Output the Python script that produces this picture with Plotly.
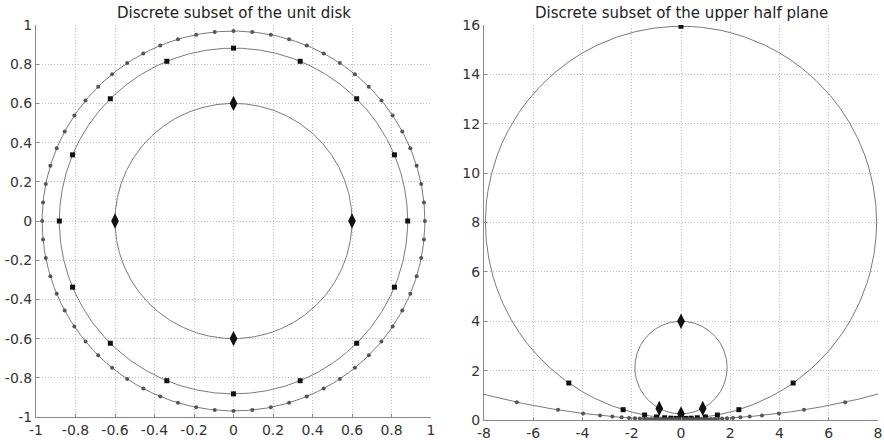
import numpy as np
import plotly.graph_objects as go

# ---- data ----
ring_radii = [0.6, 0.882, 0.969]          # radii of the rings in the unit disk
ring_counts = [4, 16, 64]                 # number of discrete points on each ring
ring_symbols = ["diamond-tall", "square", "circle"]
ring_sizes = [11, 5, 4]
ring_colors = ["#111111", "#111111", "#555555"]

disk_ticks = [-1, -0.8, -0.6, -0.4, -0.2, 0, 0.2, 0.4, 0.6, 0.8, 1]
disk_ticklabels = ["-1", "-0.8", "-0.6", "-0.4", "-0.2", "0", "0.2", "0.4", "0.6", "0.8", "1"]
hp_xticks = [-8, -6, -4, -2, 0, 2, 4, 6, 8]
hp_xticklabels = ["-8", "-6", "-4", "-2", "0", "2", "4", "6", "8"]
hp_yticks = [0, 2, 4, 6, 8, 10, 12, 14, 16]
hp_yticklabels = ["0", "2", "4", "6", "8", "10", "12", "14", "16"]

titles = ["Discrete subset of the unit disk", "Discrete subset of the upper half plane"]


def cayley(w):
    return 1j * (1 + w) / (1 - w)


fig = go.Figure()
line_col = "#7a7a7a"

for r, n, sym, sz, col in zip(ring_radii, ring_counts, ring_symbols, ring_sizes, ring_colors):
    t = np.linspace(0, 2 * np.pi, 721)
    circ = r * np.exp(1j * t)
    fig.add_trace(go.Scatter(x=circ.real, y=circ.imag, mode="lines",
                             line=dict(color=line_col, width=1), xaxis="x", yaxis="y",
                             hoverinfo="skip"))
    pts = r * np.exp(2j * np.pi * np.arange(n) / n)
    fig.add_trace(go.Scatter(x=pts.real, y=pts.imag, mode="markers",
                             marker=dict(symbol=sym, size=sz, color=col),
                             xaxis="x", yaxis="y"))
    # image in upper half plane: circle with centre i(1+r^2)/(1-r^2), radius 2r/(1-r^2)
    c = (1 + r * r) / (1 - r * r)
    R = 2 * r / (1 - r * r)
    t2 = np.linspace(0, 2 * np.pi, 6001)
    fig.add_trace(go.Scatter(x=R * np.cos(t2), y=c + R * np.sin(t2), mode="lines",
                             line=dict(color=line_col, width=1), xaxis="x2", yaxis="y2",
                             hoverinfo="skip"))
    hp = cayley(pts)
    keep = (np.abs(hp.real) <= 8.2) & (hp.imag <= 16.2)
    fig.add_trace(go.Scatter(x=hp.real[keep], y=hp.imag[keep], mode="markers",
                             marker=dict(symbol=sym, size=sz, color=col),
                             xaxis="x2", yaxis="y2"))

axis_common = dict(showgrid=True, gridcolor="#bdbdbd", griddash="1px,2px", gridwidth=1,
                   zeroline=False, showline=True, linecolor="#8a8a8a", linewidth=1,
                   ticks="inside", ticklen=3, tickcolor="#8a8a8a",
                   tickfont=dict(family="DejaVu Sans", size=14, color="#333333"),
                   ticklabeloverflow="allow", mirror=False)

fig.update_layout(
    width=884, height=440,
    margin=dict(l=0, r=0, t=0, b=0, autoexpand=False),
    paper_bgcolor="white", plot_bgcolor="white",
    showlegend=False,
    xaxis=dict(domain=[36 / 884, 431 / 884], range=[-1, 1], tickvals=disk_ticks,
               ticktext=disk_ticklabels, anchor="y", **axis_common),
    yaxis=dict(domain=[1 - 417 / 440, 1 - 25 / 440], range=[-1, 1], tickvals=disk_ticks,
               ticktext=disk_ticklabels, anchor="x", **axis_common),
    xaxis2=dict(domain=[484 / 884, 878 / 884], range=[-8, 8], tickvals=hp_xticks,
                ticktext=hp_xticklabels, anchor="y2", **axis_common),
    yaxis2=dict(domain=[1 - 420 / 440, 1 - 25 / 440], range=[0, 16], tickvals=hp_yticks,
                ticktext=hp_yticklabels, anchor="x2", **axis_common),
    annotations=[
        dict(text=titles[0], x=(36 + 431) / 2 / 884, y=1 - 13 / 440, xref="paper", yref="paper",
             showarrow=False, xanchor="center", yanchor="middle",
             font=dict(family="DejaVu Sans", size=15, color="#222222")),
        dict(text=titles[1], x=(484 + 878) / 2 / 884, y=1 - 13 / 440, xref="paper", yref="paper",
             showarrow=False, xanchor="center", yanchor="middle",
             font=dict(family="DejaVu Sans", size=15, color="#222222")),
    ],
)

fig.write_html("out.html", config={"displayModeBar": False},
               post_script="document.body.style.margin='0';")
